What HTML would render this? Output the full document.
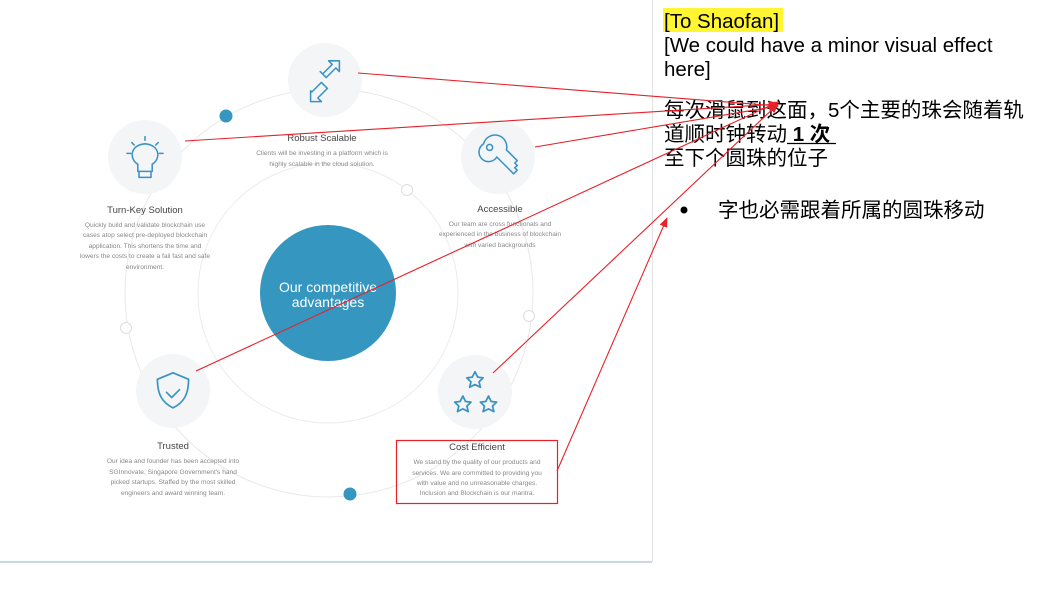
<!DOCTYPE html>
<html><head><meta charset="utf-8"><style>
html,body{margin:0;padding:0;background:#fff;width:1061px;height:589px;overflow:hidden}
svg{display:block}
.t{font-family:"Liberation Sans",sans-serif;fill:#444;font-size:9.5px;text-anchor:middle}
.d{font-family:"Liberation Sans",sans-serif;fill:#888;font-size:6.6px;text-anchor:middle}
.r{font-family:"Liberation Sans","Noto Sans CJK SC",sans-serif;fill:#000;font-size:20.5px}
.ic{fill:none;stroke:#3a94c3;stroke-width:1.3;stroke-linejoin:round;stroke-linecap:round}
</style></head><body>
<svg width="1061" height="589" viewBox="0 0 1061 589">
<defs><marker id="a" markerWidth="10" markerHeight="8" refX="9" refY="4" orient="auto" markerUnits="userSpaceOnUse"><path d="M0,0 L10,4 L0,8z" fill="#e8202a"/></marker></defs>
<line x1="652.5" y1="0" x2="652.5" y2="562" stroke="#e3e3e3"/>
<line x1="0" y1="562" x2="652" y2="562" stroke="#b9ccd6" stroke-width="1.5"/>
<circle cx="329" cy="293" r="204" fill="none" stroke="#e8e8e8"/>
<circle cx="328" cy="293" r="130" fill="none" stroke="#ececec"/>
<circle cx="328" cy="293" r="68" fill="#3596c0"/>
<text x="328" y="292" font-family="Liberation Sans,sans-serif" font-size="14" fill="#fff" text-anchor="middle">Our competitive</text>
<text x="328" y="307" font-family="Liberation Sans,sans-serif" font-size="14" fill="#fff" text-anchor="middle">advantages</text>
<circle cx="226" cy="116" r="6.5" fill="#3596c0"/>
<circle cx="350" cy="494" r="6.5" fill="#3596c0"/>
<circle cx="126" cy="328" r="5.5" fill="#fff" stroke="#ddd"/>
<circle cx="529" cy="316" r="5.5" fill="#fff" stroke="#ddd"/>
<circle cx="407" cy="190" r="5.5" fill="#fff" stroke="#ddd"/>
<g fill="#f4f5f7">
<circle cx="325" cy="80" r="37"/><circle cx="145" cy="157" r="37"/><circle cx="498" cy="157" r="37"/><circle cx="173" cy="391" r="37"/><circle cx="475" cy="392" r="37"/></g>
<!-- icons -->
<g transform="translate(325,80) scale(1.2) translate(-326,-76)">
<path class="ic" d="M322,69 l5,5 l8,-8 l3,3 l0,-9 l-9,0 l3,3 l-8,8z M315,86 l8,-8 l5,5 l-8,8 l3,3 l-9,0 l0,-9z"/></g>
<g transform="translate(145,157) scale(1.2) translate(-145,-156)">
<path class="ic" d="M139,162 c-7,-4 -7,-16 6,-17 c13,1 13,13 6,17 l0,6 l-12,0z M140,168 l0,5 l10,0 l0,-5 M145,139 l0,3 M134,144 l2,2 M156,144 l-2,2 M130,153 l3,0 M157,153 l3,0"/></g>
<g transform="translate(498,157) scale(1.2) translate(-497,-158)">
<path class="ic" d="M485,147 a8,8 0 1 0 11,11 l14,14 l3,-3 l-2,-2 l2,-2 l-2,-2 l2,-2 l-9,-9 a8,8 0 0 0 -19,-5z"/><circle class="ic" cx="490" cy="150" r="2.5"/></g>
<g transform="translate(173,391) scale(1.3) translate(-173,-390)">
<path class="ic" d="M173,376 l12,5 c0,12 -4,18 -12,22 c-8,-4 -12,-10 -12,-22z M168,391 l4,4 l6,-6"/></g>
<g transform="translate(475,392) scale(1.35) translate(-475,-390)">
<path class="ic" d="M475,375 l2,4 4,0.5 -3,3 1,4 -4,-2 -4,2 1,-4 -3,-3 4,-0.5z M466,393 l2,4 4,0.5 -3,3 1,4 -4,-2 -4,2 1,-4 -3,-3 4,-0.5z M485,393 l2,4 4,0.5 -3,3 1,4 -4,-2 -4,2 1,-4 -3,-3 4,-0.5z"/></g>
<!-- text -->
<text class="t" x="322" y="141">Robust Scalable</text>
<text class="d" x="322" y="155">Clients will be investing in a platform which is</text>
<text class="d" x="322" y="166">highly scalable in the cloud solution.</text>
<text class="t" x="145" y="213">Turn-Key Solution</text>
<text class="d" x="145" y="227">Quickly build and validate blockchain use</text>
<text class="d" x="145" y="237">cases atop select pre-deployed blockchain</text>
<text class="d" x="145" y="248">application. This shortens the time and</text>
<text class="d" x="145" y="258">lowers the costs to create a fail fast and safe</text>
<text class="d" x="145" y="269">environment.</text>
<text class="t" x="500" y="212">Accessible</text>
<text class="d" x="500" y="226">Our team are cross functionals and</text>
<text class="d" x="500" y="236">experienced in the business of blockchain</text>
<text class="d" x="500" y="247">with varied backgrounds</text>
<text class="t" x="173" y="449">Trusted</text>
<text class="d" x="173" y="463">Our idea and founder has been accepted into</text>
<text class="d" x="173" y="474">SGInnovate, Singapore Government's hand</text>
<text class="d" x="173" y="484">picked startups. Staffed by the most skilled</text>
<text class="d" x="173" y="495">engineers and award winning team.</text>
<text class="t" x="477" y="450">Cost Efficient</text>
<text class="d" x="477" y="464">We stand by the quality of our products and</text>
<text class="d" x="477" y="475">services. We are committed to providing you</text>
<text class="d" x="477" y="485">with value and no unreasonable charges.</text>
<text class="d" x="477" y="495">Inclusion and Blockchain is our mantra.</text>
<rect x="396.5" y="440.5" width="161" height="63" fill="none" stroke="#e8202a" stroke-width="1.2"/>
<!-- right text -->
<rect x="663" y="8" width="120" height="24" fill="#fff533"/>
<text class="r" x="664" y="28">[To Shaofan]</text>
<text class="r" x="664" y="52">[We could have a minor visual effect</text>
<text class="r" x="664" y="76">here]</text>
<text class="r" x="664" y="117">每次滑鼠到这面，5个主要的珠会随着轨</text>
<text class="r" x="664" y="141">道顺时钟转动<tspan font-weight="bold"> 1 次</tspan></text>
<line x1="787" y1="143.5" x2="836" y2="143.5" stroke="#000" stroke-width="1.2"/>
<text class="r" x="664" y="165">至下个圆珠的位子</text>
<circle cx="684" cy="210" r="3.5" fill="#000"/>
<text class="r" x="718" y="217">字也必需跟着所属的圆珠移动</text>
<!-- arrows -->
<g stroke="#e8202a" stroke-width="1.1" fill="none" marker-end="url(#a)">
<line x1="358" y1="73" x2="778" y2="106"/>
<line x1="185" y1="141" x2="778" y2="104"/>
<line x1="535" y1="147" x2="778" y2="106"/>
<line x1="196" y1="371" x2="778" y2="102"/>
<line x1="493" y1="373" x2="778" y2="104"/>
<line x1="557" y1="471" x2="667" y2="218"/>
</g>
</svg>
</body></html>
